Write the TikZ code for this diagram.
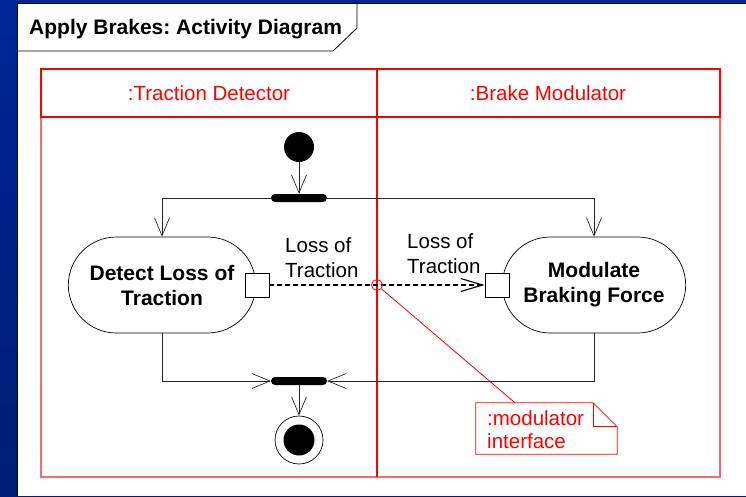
\documentclass[tikz,border=0pt]{standalone}
\usepackage{fontspec}
\setmainfont{Liberation Sans}
\usetikzlibrary{arrows.meta,shapes.misc,calc}
\definecolor{slidetop}{RGB}{0,38,150}
\definecolor{slidebot}{RGB}{0,28,115}
\definecolor{lanepale}{RGB}{255,105,105}
\def\txt{\fontsize{20.5}{25}\selectfont}
\frenchspacing

\tikzset{
	action/.style={rounded rectangle, draw, line width=0.7pt, minimum height=96pt, align=center, font=\fontsize{21}{25}\selectfont\bfseries},
	pinbox/.style={draw, fill=white, line width=0.7pt, minimum size=24pt, inner sep=0pt},
	bar/.style={fill=black, rounded corners=4pt, minimum width=56pt, minimum height=8pt, inner sep=0pt},
	flow/.style={-{Straight Barb[length=18pt,width=15pt]}, line width=0.7pt, black!85},
	flowtext/.style={align=left, inner sep=0pt, font=\txt},
}

\begin{document}
\begin{tikzpicture}[x=1pt, y=-1pt]
			%%%%% START %%%%%
			\useasboundingbox (0, 0) rectangle (746, 496);
			\shade[top color=slidetop, bottom color=slidebot] (0, 0) rectangle (746, 496);
			\fill[white] (17, 3) rectangle (746, 496);
			\draw[line width=0.8pt] (17, 496) -- (17, 3) -- (746, 3);
			
			\draw[line width=0.8pt] (17, 51) -- (333, 51) -- (357, 28) -- (357, 3);
			\node (title) [anchor=base west, inner sep=0pt, font=\fontsize{21}{25}\selectfont\bfseries] at (29, 34) {Apply Brakes: Activity Diagram};
			
			\draw[line width=1.1pt, color=lanepale] (41, 117) -- (41, 477) -- (720, 477) -- (720, 117);
			\draw[line width=1.1pt, color=red] (41, 69) rectangle (720, 117);
			\draw[line width=1.2pt, color=red] (377, 69) -- (377, 477);
			\node (lane1) [font=\txt, text=red] at (209, 93) {:Traction Detector};
			\node (lane2) [font=\txt, text=red] at (548, 93) {:Brake Modulator};
			
			\node (start) [circle, fill=black, minimum size=30pt, inner sep=0pt] at (299, 147) {};
			\node (fork) [bar] at (299, 198) {};
			\node (detect) [action, minimum width=194pt] at (162, 285) {Detect Loss of\\Traction};
			\node (modulate) [action, minimum width=190pt] at (594, 285) {Modulate\\Braking Force};
			\node (outpin) [pinbox] at (257, 285) {};
			\node (inpin) [pinbox] at (497, 285) {};
			\node (join) [bar] at (299, 381) {};
			\node (stop) [circle, draw, line width=0.7pt, minimum size=48pt, inner sep=0pt] at (299, 440) {};
			\node (stopdot) [circle, fill=black, minimum size=31pt, inner sep=0pt] at (stop) {};
			
			\draw[flow] (start) -- (fork);
			\draw[flow] (fork) -| (detect);
			\draw[flow] (fork) -| (modulate);
			\draw[flow] (detect) |- (join);
			\draw[flow] (modulate) |- (join);
			\draw[flow] (join) -- (stop);
			
			\draw[line width=1.1pt, dash pattern=on 5pt off 3pt, -{Straight Barb[length=22pt,width=13pt]}] (outpin) -- (inpin);
			\node (loss1) [flowtext, anchor=north west] at (285, 237) {Loss of\\Traction};
			\node (loss2) [flowtext, anchor=north west] at (407, 233) {Loss of\\Traction};
			
			\node (iface) [circle, draw=red, line width=0.8pt, minimum size=11pt, inner sep=0pt] at (377, 285) {};
			\node (note) [minimum width=141pt, minimum height=51pt, inner sep=0pt] at (546.5, 428.5) {};
			\draw[red, line width=0.8pt] (note.north west) -- ($(note.north east)+(-24, 0)$) -- ($(note.north east)+(0, 24)$) -- (note.south east) -- (note.south west) -- cycle;
			\draw[red, line width=0.8pt] ($(note.north east)+(-24, 0)$) -- ($(note.north east)+(-24, 24)$) -- ($(note.north east)+(0, 24)$);
			\node (notetext) [flowtext, anchor=north west, text=red, font=\fontsize{20.5}{23}\selectfont] at (487, 410) {:modulator\\interface};
			\draw[red, line width=0.8pt] (iface) -- ($(note.north west)!0.277!(note.north east)$);
			%%%%% END %%%%%
\end{tikzpicture}
\end{document}
